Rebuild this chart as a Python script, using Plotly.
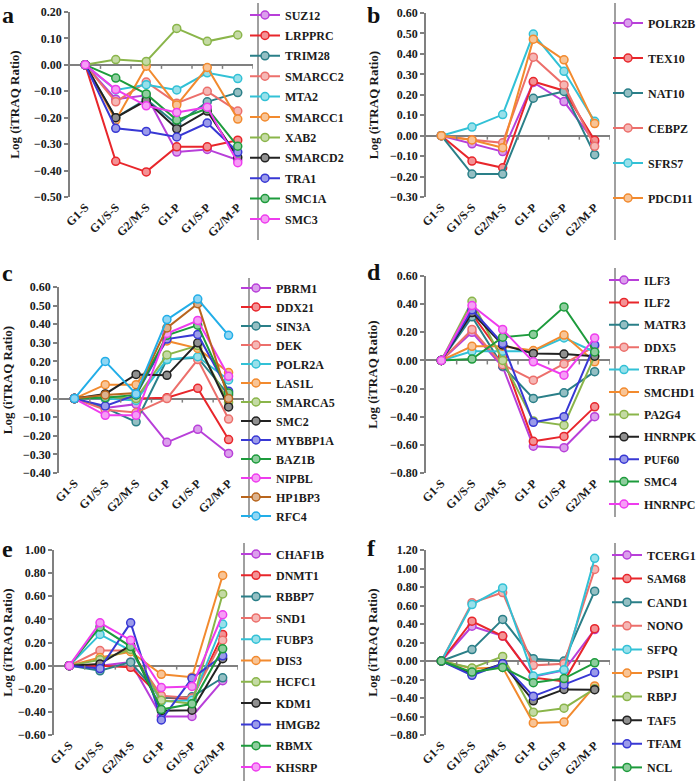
import plotly.graph_objects as go

W, H = 700, 781
stages = ["G1-S", "G1/S-S", "G2/M-S", "G1-P", "G1/S-P", "G2/M-P"]

genes_a = ["SUZ12", "LRPPRC", "TRIM28", "SMARCC2", "MTA2", "SMARCC1", "XAB2",
           "SMARCD2", "TRA1", "SMC1A", "SMC3"]
vals_a = [
    [0, -0.13, -0.115, -0.33, -0.32, -0.36],
    [0, -0.365, -0.405, -0.31, -0.31, -0.285],
    [0, -0.20, -0.13, -0.225, -0.14, -0.105],
    [0, -0.14, -0.065, -0.145, -0.10, -0.175],
    [0, -0.095, -0.075, -0.095, -0.03, -0.052],
    [0, -0.21, -0.005, -0.152, -0.01, -0.205],
    [0, 0.02, 0.013, 0.138, 0.089, 0.113],
    [0, -0.20, -0.135, -0.242, -0.175, -0.35],
    [0, -0.24, -0.252, -0.273, -0.22, -0.33],
    [0, -0.05, -0.11, -0.209, -0.165, -0.308],
    [0, -0.093, -0.155, -0.18, -0.16, -0.37],
]

genes_b = ["POLR2B", "TEX10", "NAT10", "CEBPZ", "SFRS7", "PDCD11"]
vals_b = [
    [0, -0.04, -0.078, 0.26, 0.167, -0.03],
    [0, -0.124, -0.157, 0.265, 0.22, -0.023],
    [0, -0.188, -0.188, 0.183, 0.216, -0.093],
    [0, -0.02, -0.035, 0.384, 0.248, -0.052],
    [0, 0.042, 0.103, 0.497, 0.315, 0.07],
    [0, -0.021, -0.059, 0.472, 0.371, 0.059],
]

genes_c = ["PBRM1", "DDX21", "SIN3A", "DEK", "POLR2A", "LAS1L", "SMARCA5",
           "SMC2", "MYBBP1A", "BAZ1B", "NIPBL", "HP1BP3", "RFC4"]
vals_c = [
    [0, -0.05, -0.03, -0.235, -0.165, -0.295],
    [0, 0.0, 0.0, 0.005, 0.055, -0.22],
    [0, -0.05, -0.125, 0.21, 0.22, 0.02],
    [0, -0.06, -0.075, 0.0, 0.21, -0.11],
    [0, 0.0, -0.01, 0.21, 0.225, 0.10],
    [0, 0.075, 0.075, 0.31, 0.27, 0.14],
    [0, 0.01, 0.0, 0.235, 0.285, -0.02],
    [0, 0.025, 0.13, 0.125, 0.30, -0.045],
    [0, -0.04, 0.02, 0.32, 0.345, 0.04],
    [0, 0.005, 0.02, 0.34, 0.395, 0.03],
    [0, -0.09, -0.09, 0.35, 0.42, 0.12],
    [0, 0.02, 0.03, 0.38, 0.51, 0.0],
    [0, 0.20, 0.025, 0.425, 0.535, 0.34],
]

genes_d = ["ILF3", "ILF2", "MATR3", "DDX5", "TRRAP", "SMCHD1", "PA2G4",
           "HNRNPK", "PUF60", "SMC4", "HNRNPC"]
vals_d = [
    [0, 0.20, -0.045, -0.61, -0.62, -0.40],
    [0, 0.33, 0.03, -0.575, -0.54, -0.33],
    [0, 0.31, -0.04, -0.27, -0.23, -0.08],
    [0, 0.22, -0.03, -0.14, -0.025, 0.10],
    [0, 0.065, 0.065, 0.065, 0.16, 0.06],
    [0, 0.10, 0.10, 0.07, 0.18, -0.01],
    [0, 0.42, 0.0, -0.43, -0.46, 0.03],
    [0, 0.34, 0.11, 0.05, 0.045, 0.03],
    [0, 0.36, 0.12, -0.44, -0.40, 0.11],
    [0, 0.01, 0.165, 0.185, 0.38, 0.06],
    [0, 0.39, 0.22, -0.01, -0.105, 0.16],
]

genes_e = ["CHAF1B", "DNMT1", "RBBP7", "SND1", "FUBP3", "DIS3", "HCFC1",
           "KDM1", "HMGB2", "RBMX", "KHSRP"]
vals_e = [
    [0, 0.0, 0.03, -0.44, -0.44, -0.13],
    [0, 0.0, -0.015, -0.275, -0.29, 0.27],
    [0, -0.045, 0.03, -0.28, -0.27, -0.105],
    [0, 0.13, 0.13, -0.26, -0.28, 0.22],
    [0, 0.27, 0.13, -0.31, -0.30, 0.36],
    [0, 0.07, 0.12, -0.075, -0.10, 0.78],
    [0, 0.05, 0.14, -0.30, -0.33, 0.62],
    [0, 0.015, 0.175, -0.39, -0.385, 0.06],
    [0, -0.025, 0.37, -0.47, -0.11, 0.085],
    [0, 0.335, 0.165, -0.38, -0.33, 0.145],
    [0, 0.37, 0.22, -0.19, -0.18, 0.44],
]

genes_f = ["TCERG1", "SAM68", "CAND1", "NONO", "SFPQ", "PSIP1", "RBPJ",
           "TAF5", "TFAM", "NCL"]
vals_f = [
    [0, 0.376, 0.27, -0.17, -0.10, 0.34],
    [0, 0.43, 0.27, -0.18, -0.22, 0.35],
    [0, 0.123, 0.45, 0.025, 0.0, 0.755],
    [0, 0.63, 0.74, -0.047, -0.03, 0.99],
    [0, 0.61, 0.79, -0.163, -0.095, 1.11],
    [0, -0.08, -0.07, -0.67, -0.66, -0.27],
    [0, -0.076, 0.05, -0.553, -0.51, -0.30],
    [0, -0.14, -0.03, -0.43, -0.307, -0.31],
    [0, -0.155, -0.03, -0.38, -0.256, -0.125],
    [0, -0.12, -0.07, -0.235, -0.19, -0.02],
]

# ---------- styling ----------
palette = ["#b83fd9", "#e8262b", "#2a7f88", "#ec6f6b", "#32c1d6", "#f28a2e",
           "#8ab54a", "#222222", "#3838d4", "#1d9b3c", "#ee3cee"]
palette_c = palette + ["#b8651d", "#22aee8"]

FONT = "Liberation Serif, Times New Roman, serif"
AX = "#808080"


def tint(hexc, f=0.5):
    h = hexc.lstrip("#")
    r, g, b = int(h[0:2], 16), int(h[2:4], 16), int(h[4:6], 16)
    r = int(r + (255 - r) * f)
    g = int(g + (255 - g) * f)
    b = int(b + (255 - b) * f)
    return f"rgb({r},{g},{b})"


panels = [
    dict(L="a", g=genes_a, v=vals_a, c=palette, x0=70, x1=253, yt=12, yb=197,
         yr=[-0.5, 0.2], dt=0.1, lx=286, ly=15, gap=1.4, sx=258, sy0=3, sy1=240,
         ax=0, ay=0, top=True, so=11),
    dict(L="b", g=genes_b, v=vals_b, c=palette, x0=426, x1=610, yt=13, yb=197,
         yr=[-0.3, 0.6], dt=0.1, lx=649, ly=23, gap=16, sx=615, sy0=3, sy1=240,
         ax=365, ay=0, top=True, so=8),
    dict(L="c", g=genes_c, v=vals_c, c=palette_c, x0=59, x1=244, yt=287, yb=473,
         yr=[-0.4, 0.6], dt=0.1, lx=277, ly=288, gap=0, sx=249, sy0=278, sy1=518,
         ax=0, ay=273, top=False, so=10),
    dict(L="d", g=genes_d, v=vals_d, c=palette, x0=426, x1=610, yt=276, yb=473,
         yr=[-0.8, 0.6], dt=0.2, lx=645, ly=280, gap=3.4, sx=615, sy0=268, sy1=517,
         ax=365, ay=272, top=False, so=9),
    dict(L="e", g=genes_e, v=vals_e, c=palette, x0=54, x1=238, yt=550, yb=735,
         yr=[-0.6, 1.0], dt=0.2, lx=277, ly=554, gap=2.3, sx=244, sy0=543, sy1=781,
         ax=0, ay=549, top=False, so=6),
    dict(L="f", g=genes_f, v=vals_f, c=palette, x0=426, x1=610, yt=550, yb=735,
         yr=[-0.8, 1.2], dt=0.2, lx=648, ly=555, gap=4.6, sx=615, sy0=543, sy1=781,
         ax=365, ay=548, top=False, so=9),
]

fig = go.Figure()
layout = dict(
    width=W, height=H, margin=dict(l=0, r=0, t=0, b=0, autoexpand=False),
    paper_bgcolor="white", plot_bgcolor="white", showlegend=True,
    font=dict(family=FONT, size=12, color="#1a1a1a", weight="bold"),
)
shapes = []
annotations = []

for i, p in enumerate(panels, start=1):
    sfx = "" if i == 1 else str(i)
    xa, ya = "x" + sfx, "y" + sfx
    leg = "legend" + sfx
    for k, (name, vals) in enumerate(zip(p["g"], p["v"])):
        col = p["c"][k]
        fig.add_trace(go.Scatter(
            x=stages, y=vals, name=name, mode="lines+markers",
            xaxis=xa, yaxis=ya, legend=leg, legendgroup=f"{p['L']}{k}",
            line=dict(color=col, width=2),
            marker=dict(symbol="circle", size=8, color=tint(col, 0.5),
                        line=dict(color=col, width=1.5)),
        ))
    layout["xaxis" + sfx] = dict(
        domain=[p["x0"] / W, p["x1"] / W], anchor=ya, type="category",
        range=[-0.5, 5.5], showline=False, showgrid=False, zeroline=False,
        ticks="", tickangle=-45, tickfont=dict(size=12, family=FONT, weight="bold"),
        fixedrange=True,
    )
    layout["yaxis" + sfx] = dict(
        domain=[1 - p["yb"] / H, 1 - p["yt"] / H], anchor=xa, range=p["yr"],
        tick0=p["yr"][0], dtick=p["dt"], tickformat=".2f",
        showline=True, linecolor=AX, linewidth=1.5, ticks="outside", ticklen=4,
        tickcolor=AX, tickwidth=1.5, showgrid=False,
        zeroline=True, zerolinecolor=AX, zerolinewidth=1.5,
        tickfont=dict(size=12, family=FONT, weight="bold"),
        title=dict(text="Log (iTRAQ Ratio)", font=dict(size=13, family=FONT, weight="bold"),
                   standoff=p["so"]),
        fixedrange=True,
    )
    for b in range(6):
        shapes.append(dict(type="line", xref=xa, yref=ya, x0=b + 0.5, x1=b + 0.5,
                           ysizemode="pixel", yanchor=0, y0=0, y1=-4,
                           line=dict(color=AX, width=1.5)))
    shapes.append(dict(type="line", xref="paper", yref="paper",
                       x0=p["sx"] / W, x1=p["sx"] / W,
                       y0=1 - p["sy1"] / H, y1=1 - p["sy0"] / H,
                       line=dict(color=AX, width=1.5)))
    layout[leg] = dict(
        x=(p["lx"] - 41) / W, xanchor="left",
        y=1 - (p["ly"] - 14.5) / H, yanchor="top",
        bgcolor="rgba(0,0,0,0)", borderwidth=0,
        tracegroupgap=p["gap"], traceorder="grouped",
        font=dict(size=12, family=FONT, weight="bold", color="#1a1a1a"),
        itemwidth=30,
    )
    annotations.append(dict(text=p["L"], xref="paper", yref="paper",
                            x=p["ax"] / W, y=1 - p["ay"] / H,
                            xanchor="left", yanchor="top" if p["top"] else "middle",
                            showarrow=False,
                            font=dict(size=24, family=FONT, weight="bold", color="#111")))

layout["shapes"] = shapes
layout["annotations"] = annotations
fig.update_layout(**layout)
fig.write_html("out.html", config={"displayModeBar": False},
               post_script="document.body.style.margin='0';document.body.style.overflow='hidden';")
